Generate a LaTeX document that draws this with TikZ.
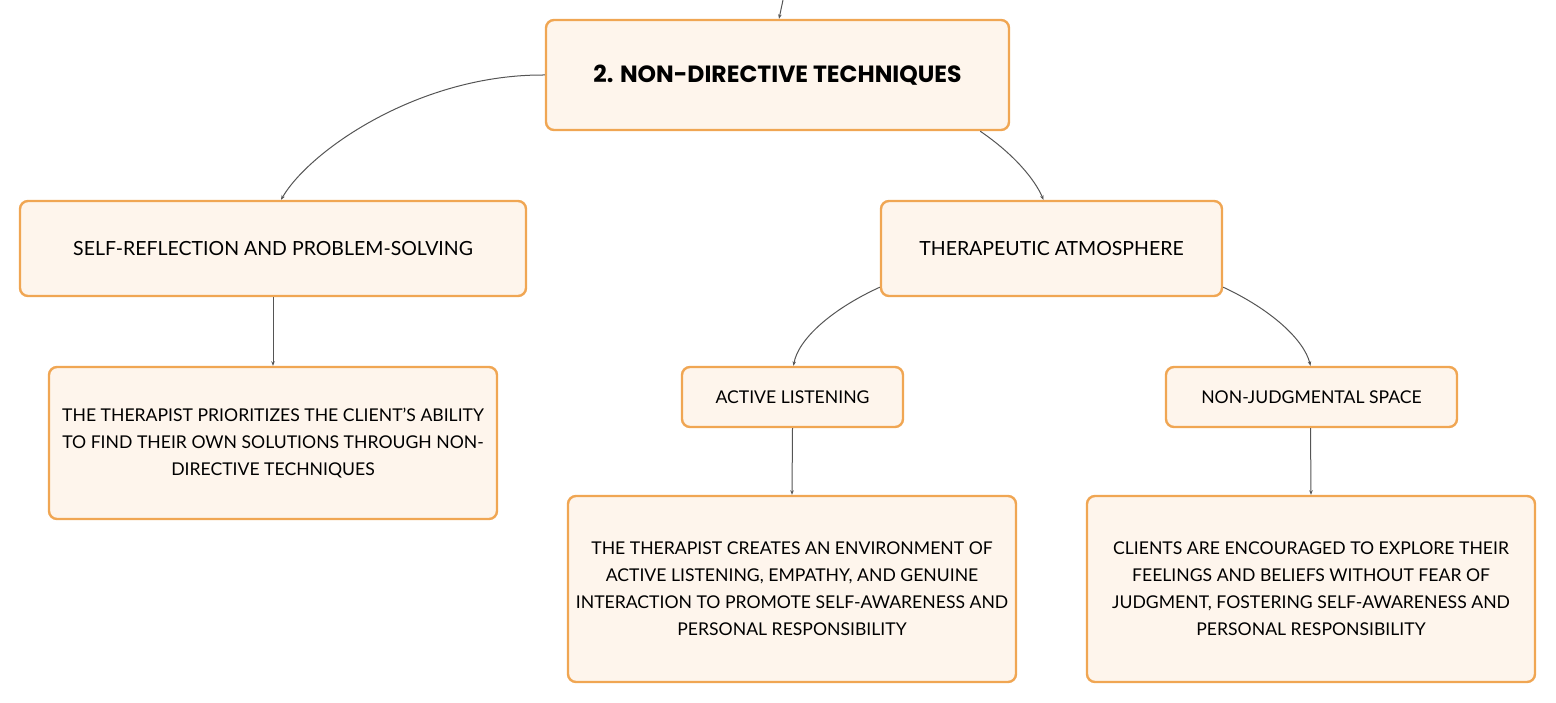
\documentclass[tikz,border=0pt]{standalone}
\usepackage{fontspec}
\setmainfont{Lato}
\newfontfamily\titlefont{Poppins}
\usetikzlibrary{arrows.meta}
\definecolor{boxfill}{HTML}{FEF5EC}
\definecolor{boxdraw}{HTML}{F0A653}
\definecolor{linkc}{HTML}{555555}
\tikzset{
  x=1pt,y=-1pt,
  card/.style={draw=boxdraw, fill=boxfill, line width=2.4pt, rounded corners=8pt,
    align=center, inner sep=0pt, font=\fontsize{19.5}{27}\selectfont, text=black},
  small/.style={font=\fontsize{17.6}{27}\selectfont},
  link/.style={draw=linkc, line width=1pt, -{Stealth[length=4.5pt,width=3.5pt]}},
}
\begin{document}
\begin{tikzpicture}
\useasboundingbox (0,0) rectangle (1556,703);
\node[card, minimum width=463pt, minimum height=110pt, font=\titlefont\bfseries\fontsize{23.5}{28}\selectfont] (root) at (777.5,75) {2. NON-DIRECTIVE TECHNIQUES};
\node[card, minimum width=506pt, minimum height=95pt] (self) at (273,248.5) {SELF-REFLECTION AND PROBLEM-SOLVING};
\node[card, small, minimum width=448pt, minimum height=152pt] (prio) at (273,443) {THE THERAPIST PRIORITIZES THE CLIENT'S ABILITY\\TO FIND THEIR OWN SOLUTIONS THROUGH NON-\\DIRECTIVE TECHNIQUES};
\node[card, minimum width=341pt, minimum height=95pt] (atmo) at (1051.5,248.5) {THERAPEUTIC ATMOSPHERE};
\node[card, small, minimum width=221pt, minimum height=60pt] (active) at (792.5,397) {ACTIVE LISTENING};
\node[card, small, minimum width=291pt, minimum height=60pt] (nonj) at (1311.5,397) {NON-JUDGMENTAL SPACE};
\node[card, small, minimum width=448pt, minimum height=186pt] (actd) at (792,589) {THE THERAPIST CREATES AN ENVIRONMENT OF\\ACTIVE LISTENING, EMPATHY, AND GENUINE\\INTERACTION TO PROMOTE SELF-AWARENESS AND\\PERSONAL RESPONSIBILITY};
\node[card, small, minimum width=448pt, minimum height=186pt] (nonjd) at (1311,589) {CLIENTS ARE ENCOURAGED TO EXPLORE THEIR\\FEELINGS AND BELIEFS WITHOUT FEAR OF\\JUDGMENT, FOSTERING SELF-AWARENESS AND\\PERSONAL RESPONSIBILITY};
\coordinate (topin) at (783,0);
\draw[link] (topin) -- ([xshift=1.5pt]root.north);
\draw[link] (root.west) .. controls (420,74) and (310,150) .. ([xshift=8pt]self.north);
\draw[link] ([xshift=-30pt]root.south east) .. controls (1015,155) and (1035,180) .. ([xshift=-8pt]atmo.north);
\draw[link] ([yshift=10pt]atmo.south west) .. controls (830,310) and (798,340) .. ([xshift=1pt]active.north);
\draw[link] ([yshift=10pt]atmo.south east) .. controls (1272,310) and (1304,340) .. ([xshift=-1pt]nonj.north);
\draw[link] (self.south) -- (prio.north);
\draw[link] (active.south) -- (actd.north);
\draw[link] ([xshift=-1pt]nonj.south) -- (nonjd.north);
\end{tikzpicture}
\end{document}
